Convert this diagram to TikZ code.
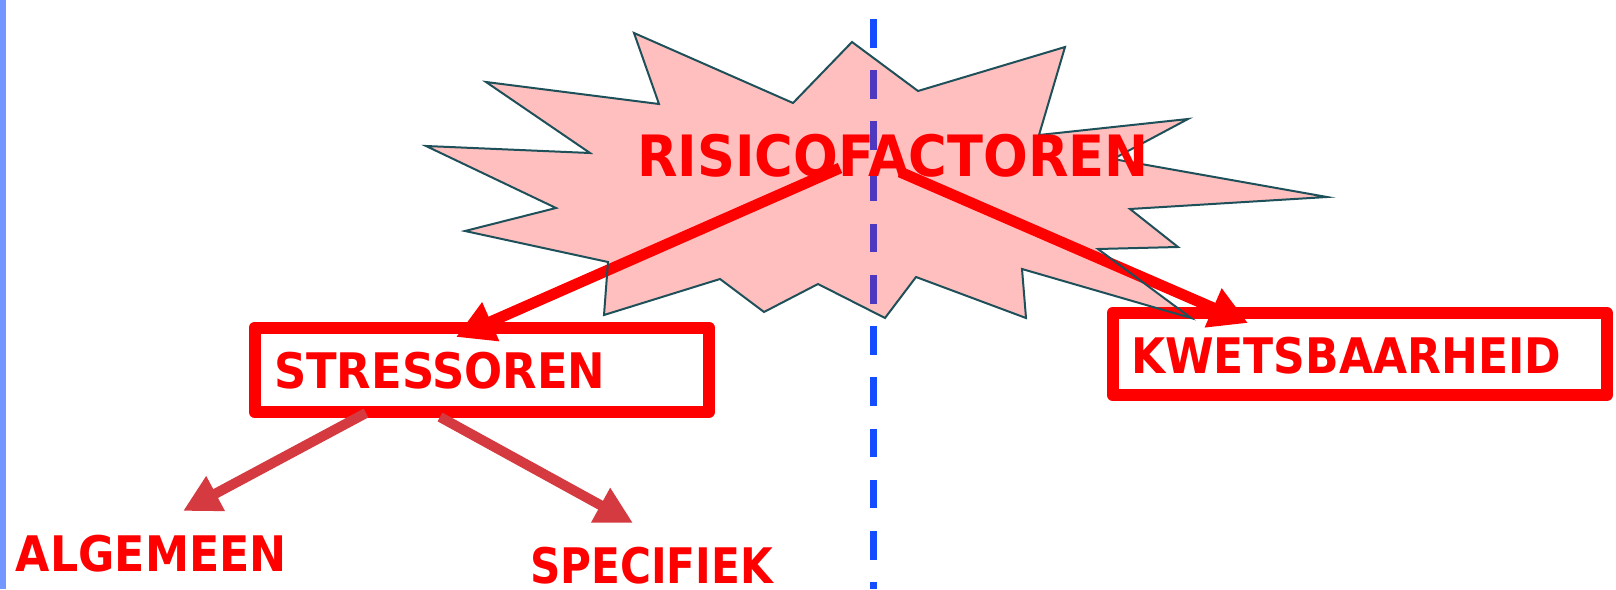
\documentclass[tikz,border=0pt]{standalone}
\usepackage{fontspec}
\setmainfont{DejaVu Sans}
\usetikzlibrary{arrows.meta}

\definecolor{riskred}{RGB}{255,0,0}
\definecolor{arrowred}{RGB}{212,58,64}
\definecolor{starline}{RGB}{30,80,90}
\definecolor{dashblue}{RGB}{20,76,255}
\definecolor{edgeblue}{RGB}{115,150,255}

\begin{document}
\begin{tikzpicture}[x=1pt,y=-1pt,
    framebox/.style={draw=riskred, line width=12pt, line join=round, inner sep=0pt, outer sep=0pt},
    word/.style={text=riskred, inner sep=0pt, outer sep=0pt, anchor=base west, font=\fontsize{49}{59}\selectfont\bfseries},
    bigarrow/.style={-{Triangle[length=38pt,width=40pt]}, line width=11pt, draw=riskred},
    smallarrow/.style={-{Triangle[length=37pt,width=37pt]}, line width=10pt, draw=arrowred}]
    \useasboundingbox (0,0) rectangle (1616,589);

    \draw[edgeblue, line width=6pt] (3,0) -- (3,589);
    \draw[dashblue, line width=7pt, dash pattern=on 28.5pt off 22.7pt] (873.5,19) -- (873.5,589);

    \node[framebox, minimum width=454.5pt, minimum height=84.5pt] (stress) at (481.75,369.75) {};
    \node[framebox, minimum width=494.5pt, minimum height=82pt] (kwets) at (1359.75,354) {};

    \coordinate (riskL) at (840,168);
    \coordinate (riskR) at (900,172);
    \coordinate (stressTip) at (456,337);
    \coordinate (kwetsTip) at (1248,323);
    \coordinate (stressL) at (366,413);
    \coordinate (stressR) at (440,417);
    \coordinate (algTip) at (183,511);
    \coordinate (specTip) at (633,523);

    \draw[bigarrow] (riskL) -- (stressTip);
    \draw[bigarrow] (riskR) -- (kwetsTip);
    \draw[smallarrow] (stressL) -- (algTip);
    \draw[smallarrow] (stressR) -- (specTip);

    % explosion shape
    \draw[starline, line width=2pt, fill=riskred, fill opacity=0.25, line join=miter]
        (634,33) -- (793,103) -- (852,42) -- (918,91) -- (1065,47) -- (1039,135)
        -- (1188,119) -- (1113,159) -- (1327,197) -- (1130,209) -- (1178,247)
        -- (1098,249) -- (1191,318) -- (1022,269) -- (1026,318) -- (916,277)
        -- (885,318) -- (818,284) -- (764,312) -- (720,279) -- (604,315)
        -- (608,262) -- (465,231) -- (556,208) -- (426,146) -- (590,153)
        -- (486,82) -- (659,104) -- cycle;

    \node[word, font=\fontsize{57}{68}\selectfont\bfseries] (risk) at (637,176) {\scalebox{0.924}[1]{RISICOFACTOREN}};
    \node[word] (stresstext) at (274,388) {\scalebox{0.915}[1]{STRESSOREN}};
    \node[word] (kwetstext) at (1131,373) {\scalebox{0.899}[1]{KWETSBAARHEID}};
    \node[word] (algemeen) at (16,571) {\scalebox{0.904}[1]{ALGEMEEN}};
    \node[word] (specifiek) at (530,583) {\scalebox{0.862}[1]{SPECIFIEK}};
\end{tikzpicture}
\end{document}
